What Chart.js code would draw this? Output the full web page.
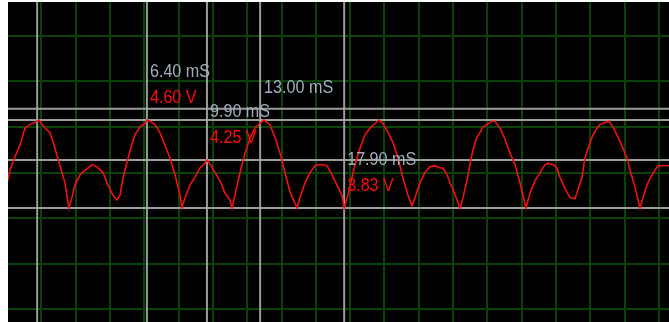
<!DOCTYPE html>
<html>
<head>
<meta charset="utf-8">
<script src="https://cdn.jsdelivr.net/npm/chart.js@4.4.1/dist/chart.umd.min.js"></script>
<style>
  html, body { margin: 0; padding: 0; background: #ffffff; }
  canvas { display: block; }
</style>
</head>
<body>
<canvas id="scope" width="669" height="322"></canvas>
<script>
// Captured trace: sample times (ms) and voltages (V)
const traceMs = [
  -1.70, -1.59, -1.29, -1.00, -0.71, -0.42, -0.13, 0.10, 0.46, 0.75,
  1.04, 1.33, 1.62, 1.85, 2.03, 2.20, 2.50, 2.79, 3.20, 3.49,
  3.84, 4.13, 4.42, 4.65, 4.83, 5.00, 5.24, 5.47, 5.70, 5.99,
  6.29, 6.40, 6.58, 6.87, 7.16, 7.45, 7.74, 8.04, 8.33, 8.44,
  8.62, 8.91, 9.20, 9.49, 9.78, 9.90, 10.02, 10.37, 10.66, 10.95,
  11.24, 11.36, 11.53, 11.83, 12.12, 12.41, 12.70, 12.99, 13.22, 13.57,
  13.87, 14.16, 14.45, 14.74, 15.15, 15.32, 15.62, 15.91, 16.20, 16.49,
  16.90, 17.19, 17.48, 17.77, 17.90, 18.12, 18.36, 18.53, 18.82, 19.11,
  19.41, 19.70, 19.93, 20.16, 20.46, 20.75, 21.04, 21.33, 21.62, 21.85,
  22.03, 22.32, 22.61, 22.90, 23.20, 23.49, 23.66, 23.90, 24.07, 24.25,
  24.48, 24.65, 24.83, 25.06, 25.24, 25.41, 25.64, 25.82, 25.99, 26.23,
  26.49, 26.69, 26.99, 27.28, 27.57, 27.86, 28.15, 28.50, 28.74, 29.03,
  29.32, 29.61, 29.78, 30.08, 30.31, 30.48, 30.78, 31.07, 31.36, 31.53,
  31.77, 31.94, 32.12, 32.35, 32.64, 32.82, 33.11, 33.34, 33.57, 33.87,
  34.16, 34.39, 34.57, 34.86, 35.15, 35.32, 35.56, 35.73, 36.02, 36.20,
  36.43, 36.84
];
const traceV = [
  4.07, 4.16, 4.28, 4.38, 4.53, 4.56, 4.58, 4.60, 4.53, 4.49,
  4.35, 4.20, 4.05, 3.83, 3.92, 4.03, 4.12, 4.16, 4.21, 4.19,
  4.14, 4.03, 3.94, 3.90, 3.94, 4.09, 4.23, 4.36, 4.47, 4.54,
  4.57, 4.60, 4.59, 4.56, 4.49, 4.38, 4.27, 4.12, 3.94, 3.83,
  3.92, 4.03, 4.10, 4.18, 4.22, 4.25, 4.23, 4.14, 4.07, 3.96,
  3.90, 3.83, 3.94, 4.14, 4.31, 4.44, 4.53, 4.57, 4.60, 4.56,
  4.45, 4.31, 4.14, 3.97, 3.83, 3.92, 4.05, 4.14, 4.20, 4.21,
  4.20, 4.12, 4.03, 3.94, 3.83, 3.94, 4.10, 4.21, 4.35, 4.47,
  4.53, 4.57, 4.60, 4.57, 4.49, 4.40, 4.27, 4.09, 3.94, 3.85,
  3.92, 4.05, 4.14, 4.19, 4.20, 4.18, 4.18, 4.12, 4.05, 3.99,
  3.90, 3.83, 3.92, 4.07, 4.22, 4.34, 4.45, 4.49, 4.54, 4.56,
  4.59, 4.59, 4.53, 4.43, 4.31, 4.21, 4.05, 3.83, 3.96, 4.07,
  4.14, 4.21, 4.22, 4.21, 4.18, 4.10, 4.00, 3.92, 3.91, 3.99,
  4.10, 4.27, 4.35, 4.45, 4.53, 4.56, 4.58, 4.59, 4.54, 4.45,
  4.35, 4.27, 4.16, 4.01, 3.83, 3.92, 4.03, 4.09, 4.16, 4.20,
  4.20, 4.20
];

// Time cursors (ms) and level cursors (V)
const timeCursorsMs = [0.00, 6.40, 9.90, 13.00, 17.90];
const levelCursorsV = [4.70, 4.60, 4.25, 3.83];

// Readouts shown next to the time cursors
const readoutMs = [6.40, 9.90, 13.00, 17.90];
const readoutV = [4.60, 4.25, null, 3.83];

// Screen range and graticule (2 ms/div, 0.4 V/div)
const timeRangeMs = [-1.70, 36.84];
const voltRangeV = [2.83, 5.635];
const gridMs = [0.25, 2.25, 4.25, 6.25, 8.25, 10.25, 12.25, 14.25, 16.25, 18.25,
                20.25, 22.25, 24.25, 26.25, 28.25, 30.25, 32.25, 34.25, 36.25];
const gridV = [2.94, 3.34, 3.74, 4.14, 4.54, 4.94, 5.34];

const CURSOR_COLOR = 'rgba(168,168,168,0.92)';

const datasets = [];
timeCursorsMs.forEach(t => datasets.push({
  data: [{x: t, y: voltRangeV[0]}, {x: t, y: voltRangeV[1]}],
  borderColor: CURSOR_COLOR, borderWidth: 2, pointRadius: 0, order: 2
}));
levelCursorsV.forEach(v => datasets.push({
  data: [{x: timeRangeMs[0], y: v}, {x: timeRangeMs[1], y: v}],
  borderColor: CURSOR_COLOR, borderWidth: 2, pointRadius: 0, order: 2
}));
datasets.push({
  data: traceMs.map((t, i) => ({x: t, y: traceV[i]})),
  borderColor: '#f21010', borderWidth: 1.6, pointRadius: 0, tension: 0, order: 1
});

const screenBackground = {
  id: 'screenBackground',
  beforeDraw(chart) {
    const {ctx, chartArea: a} = chart;
    ctx.save();
    ctx.fillStyle = '#000000';
    ctx.fillRect(a.left, a.top, a.right - a.left, a.bottom - a.top);
    ctx.restore();
  }
};

// Condensed readout text
function drawReadout(ctx, text, x, y, color) {
  ctx.save();
  ctx.translate(x, y);
  ctx.scale(0.85, 1);
  ctx.fillStyle = color;
  ctx.fillText(text, 0, 0);
  ctx.restore();
}

const readouts = {
  id: 'readouts',
  afterDatasetsDraw(chart) {
    const {ctx} = chart;
    const xs = chart.scales.x, ys = chart.scales.y;
    ctx.save();
    ctx.font = '19px "Liberation Sans", Arial, sans-serif';
    ctx.textBaseline = 'middle';
    ctx.textAlign = 'left';
    readoutMs.forEach((t, i) => {
      const x = xs.getPixelForValue(t) + 3;
      const v = readoutV[i];
      if (v !== null) {
        const y = ys.getPixelForValue(v);
        drawReadout(ctx, t.toFixed(2) + ' mS', x, y - 48, '#a2aebb');
        drawReadout(ctx, v.toFixed(2) + ' V', x, y - 22, '#ff0a0a');
      } else {
        const y = ys.getPixelForValue(Math.max(...traceV));
        drawReadout(ctx, t.toFixed(2) + ' mS', x + 1, y - 32, '#a2aebb');
      }
    });
    ctx.restore();
  }
};

const gridLine = {color: '#0b420b', lineWidth: 2, drawTicks: false};

new Chart(document.getElementById('scope'), {
  type: 'line',
  data: {datasets},
  options: {
    responsive: false,
    animation: false,
    devicePixelRatio: 1,
    layout: {padding: {left: 8, top: 2, right: 0, bottom: 0}},
    plugins: {legend: {display: false}, tooltip: {enabled: false}},
    scales: {
      x: {
        type: 'linear', min: timeRangeMs[0], max: timeRangeMs[1],
        ticks: {display: false}, border: {display: false}, grid: gridLine,
        afterBuildTicks: s => { s.ticks = gridMs.map(value => ({value})); }
      },
      y: {
        type: 'linear', min: voltRangeV[0], max: voltRangeV[1],
        ticks: {display: false}, border: {display: false}, grid: gridLine,
        afterBuildTicks: s => { s.ticks = gridV.map(value => ({value})); }
      }
    }
  },
  plugins: [screenBackground, readouts]
});
</script>
</body>
</html>
